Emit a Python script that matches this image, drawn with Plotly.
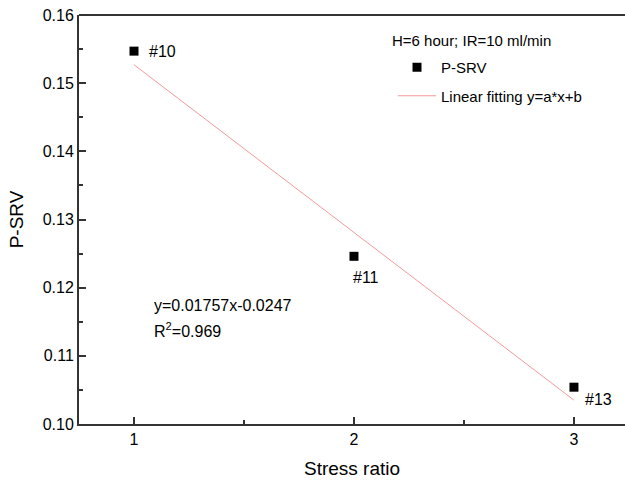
import plotly.graph_objects as go

stress_ratio = [1, 2, 3]
p_srv = [0.1547, 0.1246, 0.1054]
point_labels = ["#10", "#11", "#13"]
fit_x = [1, 3]
fit_y = [0.1527, 0.1035]
x_ticks = [1, 2, 3]
y_ticks = [0.10, 0.11, 0.12, 0.13, 0.14, 0.15, 0.16]

FONT = "Liberation Sans, Arial, sans-serif"
L, T, W, H = 79, 15, 546, 409

def px(xp):
    return (xp - L) / W

def py(yp):
    return 1 - (yp - T) / H

fig = go.Figure()
fig.add_trace(go.Scatter(
    x=stress_ratio, y=p_srv, mode="markers", name="P-SRV", legendgroup="a",
    marker=dict(symbol="square", size=9, color="black"), cliponaxis=False,
))
fig.add_trace(go.Scatter(
    x=fit_x, y=fit_y, mode="lines", name="Linear fitting y=a*x+b", legendgroup="b",
    line=dict(color="#f29a9a", width=1),
))

label_offsets = [(13, 0, "left", "middle"), (-3, 21, "left", "middle"), (9, 12, "left", "middle")]
for xv, yv, lab, (dx, dy, xa, ya) in zip(stress_ratio, p_srv, point_labels, label_offsets):
    fig.add_annotation(x=xv, y=yv, text=lab, showarrow=False, xshift=dx, yshift=-dy,
                       xanchor=xa, yanchor=ya, font=dict(size=16, color="black", family=FONT))

fig.add_annotation(x=px(390), y=py(40), xref="x domain", yref="y domain",
                   text="H=6 hour; IR=10 ml/min", showarrow=False, xanchor="left", yanchor="middle",
                   font=dict(size=15, color="black", family=FONT))
fig.add_annotation(x=px(152), y=py(305), xref="x domain", yref="y domain",
                   text="y=0.01757x-0.0247", showarrow=False, xanchor="left", yanchor="middle",
                   font=dict(size=16, color="black", family=FONT))
fig.add_annotation(x=px(152), y=py(330), xref="x domain", yref="y domain",
                   text="R<sup>2</sup>=0.969", showarrow=False, xanchor="left", yanchor="middle",
                   font=dict(size=16, color="black", family=FONT))

# top frame line (no right frame line in the reference)
fig.add_shape(type="line", xref="x domain", yref="y domain", x0=0, x1=1, y0=1, y1=1,
              line=dict(color="#333", width=2))

fig.update_layout(
    width=625, height=484,
    margin=dict(l=L, r=0, t=T, b=484 - T - H, autoexpand=False),
    paper_bgcolor="white", plot_bgcolor="white",
    font=dict(family=FONT, color="black"),
    showlegend=True,
    legend=dict(x=px(393), y=py(51), xanchor="left", yanchor="top",
                bgcolor="rgba(0,0,0,0)", font=dict(size=15, family=FONT),
                itemwidth=38, tracegroupgap=6),
    xaxis=dict(range=[0.75, 3.232], tickvals=x_ticks, ticks="inside", ticklen=7, tickwidth=1.5,
               tickcolor="#333", showline=True, linecolor="#333", linewidth=2, mirror=False,
               showgrid=False, zeroline=False, tickfont=dict(size=16), automargin=False,
               minor=dict(tickvals=[1.5, 2.5], ticks="inside", ticklen=4, tickwidth=1.5, tickcolor="#333"),
               title=dict(text="Stress ratio", font=dict(size=19), standoff=14)),
    yaxis=dict(range=[0.10, 0.16], tickvals=y_ticks, tickformat=".2f", ticks="inside", ticklen=7,
               tickwidth=1.5, tickcolor="#333", showline=True, linecolor="#333", linewidth=2,
               mirror=False, showgrid=False, zeroline=False, tickfont=dict(size=16), automargin=False,
               minor=dict(tickvals=[0.105, 0.115, 0.125, 0.135, 0.145, 0.155], ticks="inside",
                          ticklen=4, tickwidth=1.5, tickcolor="#333"),
               title=dict(text="P-SRV", font=dict(size=19), standoff=14)),
)

fig.write_html("out.html", config={"displayModeBar": False},
               post_script="document.body.style.margin='0';document.body.style.overflow='hidden';")
